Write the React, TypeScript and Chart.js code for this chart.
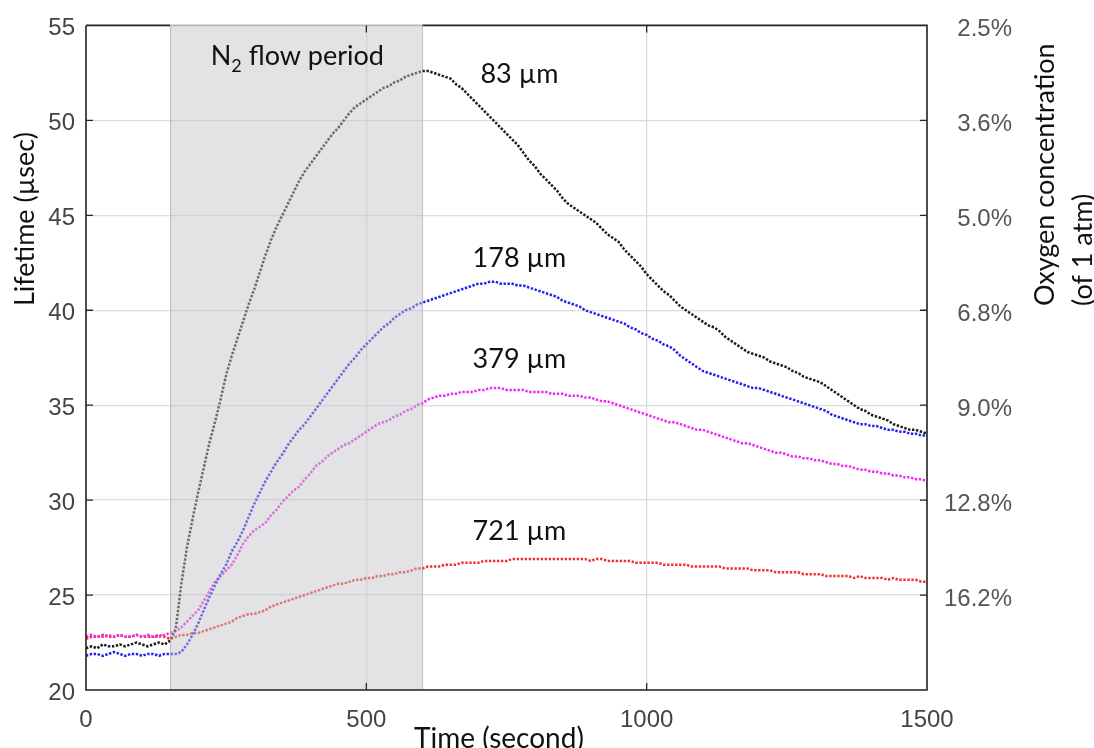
import React, { useEffect, useRef } from 'react';
import { Chart, registerables } from 'chart.js';

Chart.register(...registerables);

// time stamps (s)
const times = [
  0, 10, 20, 30, 40, 50, 60, 70, 80, 90,
  100, 110, 120, 130, 140, 150, 160, 170, 180, 190,
  200, 210, 220, 230, 240, 250, 260, 270, 280, 290,
  300, 310, 320, 330, 340, 350, 360, 370, 380, 390,
  400, 410, 420, 430, 440, 450, 460, 470, 480, 490,
  500, 510, 520, 530, 540, 550, 560, 570, 580, 590,
  600, 610, 620, 630, 640, 650, 660, 670, 680, 690,
  700, 710, 720, 730, 740, 750, 760, 770, 780, 790,
  800, 810, 820, 830, 840, 850, 860, 870, 880, 890,
  900, 910, 920, 930, 940, 950, 960, 970, 980, 990,
  1000, 1010, 1020, 1030, 1040, 1050, 1060, 1070, 1080, 1090,
  1100, 1110, 1120, 1130, 1140, 1150, 1160, 1170, 1180, 1190,
  1200, 1210, 1220, 1230, 1240, 1250, 1260, 1270, 1280, 1290,
  1300, 1310, 1320, 1330, 1340, 1350, 1360, 1370, 1380, 1390,
  1400, 1410, 1420, 1430, 1440, 1450, 1460, 1470, 1480, 1490,
  1500,
];

// lifetime (µsec) for 83 µm
const lifetime83 = [
  22.2, 22.3, 22.2, 22.4, 22.3, 22.3, 22.4, 22.3, 22.4, 22.5,
  22.4, 22.3, 22.4, 22.5, 22.4, 22.6, 23.2, 25.6, 27.5, 29.0,
  30.4, 31.7, 33.0, 34.1, 35.3, 36.6, 37.6, 38.5, 39.4, 40.3,
  41.1, 42.0, 42.9, 43.7, 44.4, 45.0, 45.6, 46.2, 46.8, 47.3,
  47.7, 48.1, 48.5, 48.9, 49.3, 49.6, 50.0, 50.4, 50.7, 50.9,
  51.1, 51.3, 51.5, 51.7, 51.8, 52.0, 52.1, 52.3, 52.4, 52.5,
  52.6, 52.6, 52.5, 52.4, 52.3, 52.2, 51.9, 51.7, 51.4, 51.1,
  50.8, 50.5, 50.2, 49.9, 49.6, 49.3, 49.0, 48.7, 48.3, 47.9,
  47.6, 47.2, 46.9, 46.6, 46.3, 45.9, 45.6, 45.4, 45.2, 45.0,
  44.8, 44.6, 44.3, 44.0, 43.8, 43.6, 43.2, 42.9, 42.6, 42.3,
  41.9, 41.6, 41.3, 41.0, 40.8, 40.5, 40.2, 40.0, 39.8, 39.6,
  39.4, 39.2, 39.1, 38.9, 38.6, 38.4, 38.2, 38.0, 37.8, 37.7,
  37.6, 37.5, 37.3, 37.2, 37.1, 37.0, 36.8, 36.7, 36.5, 36.4,
  36.3, 36.2, 36.0, 35.8, 35.6, 35.4, 35.2, 35.0, 34.8, 34.7,
  34.5, 34.4, 34.3, 34.2, 34.0, 33.9, 33.8, 33.7, 33.7, 33.6,
  33.5,
];

// lifetime (µsec) for 178 µm
const lifetime178 = [
  21.8, 21.9, 21.9, 21.8, 21.9, 22.0, 21.9, 21.8, 21.9, 21.9,
  21.8, 21.9, 21.9, 21.8, 21.9, 21.9, 21.9, 22.0, 22.4, 22.9,
  23.5, 24.2, 24.9, 25.5, 26.1, 26.6, 27.3, 27.8, 28.4, 29.1,
  29.8, 30.4, 31.0, 31.5, 32.0, 32.4, 32.9, 33.3, 33.7, 34.0,
  34.4, 34.8, 35.2, 35.6, 36.0, 36.4, 36.8, 37.2, 37.5, 37.9,
  38.2, 38.5, 38.8, 39.1, 39.3, 39.6, 39.8, 40.0, 40.1, 40.3,
  40.4, 40.5, 40.6, 40.7, 40.8, 40.9, 41.0, 41.1, 41.2, 41.3,
  41.4, 41.4, 41.5, 41.5, 41.4, 41.4, 41.4, 41.3, 41.3, 41.2,
  41.1, 41.0, 40.9, 40.8, 40.7, 40.5, 40.4, 40.3, 40.2, 40.0,
  39.9, 39.8, 39.7, 39.6, 39.5, 39.4, 39.3, 39.1, 39.0, 38.8,
  38.7, 38.5, 38.4, 38.2, 38.1, 37.9, 37.6, 37.4, 37.2, 37.0,
  36.8, 36.7, 36.6, 36.5, 36.4, 36.3, 36.2, 36.1, 36.0, 35.9,
  35.9, 35.8, 35.7, 35.6, 35.5, 35.4, 35.3, 35.2, 35.1, 35.0,
  34.9, 34.8, 34.7, 34.5, 34.4, 34.3, 34.2, 34.1, 34.0, 34.0,
  33.9, 33.9, 33.8, 33.7, 33.7, 33.6, 33.6, 33.5, 33.5, 33.4,
  33.4,
];

// lifetime (µsec) for 379 µm
const lifetime379 = [
  22.8, 22.9, 22.8, 22.8, 22.9, 22.8, 22.9, 22.8, 22.8, 22.9,
  22.8, 22.9, 22.8, 22.8, 22.9, 23.0, 23.1, 23.3, 23.6, 23.9,
  24.2, 24.7, 25.2, 25.7, 26.0, 26.3, 26.6, 27.1, 27.7, 28.1,
  28.4, 28.6, 28.8, 29.2, 29.5, 29.9, 30.2, 30.5, 30.7, 31.1,
  31.4, 31.8, 32.0, 32.3, 32.5, 32.7, 32.9, 33.0, 33.2, 33.4,
  33.6, 33.8, 34.0, 34.1, 34.2, 34.4, 34.5, 34.7, 34.8, 35.0,
  35.1, 35.3, 35.4, 35.5, 35.5, 35.6, 35.6, 35.7, 35.7, 35.7,
  35.8, 35.8, 35.9, 35.9, 35.9, 35.8, 35.8, 35.8, 35.8, 35.7,
  35.7, 35.7, 35.7, 35.6, 35.6, 35.6, 35.5, 35.5, 35.5, 35.4,
  35.4, 35.3, 35.2, 35.2, 35.1, 35.0, 34.9, 34.8, 34.7, 34.6,
  34.5, 34.4, 34.3, 34.2, 34.1, 34.1, 34.0, 33.9, 33.8, 33.7,
  33.7, 33.6, 33.5, 33.4, 33.3, 33.2, 33.1, 33.0, 33.0, 32.9,
  32.8, 32.7, 32.6, 32.5, 32.5, 32.4, 32.3, 32.3, 32.2, 32.2,
  32.1, 32.1, 32.0, 31.9, 31.9, 31.8, 31.8, 31.7, 31.6, 31.6,
  31.5, 31.5, 31.4, 31.4, 31.3, 31.3, 31.2, 31.2, 31.1, 31.1,
  31.0,
];

// lifetime (µsec) for 721 µm
const lifetime721 = [
  22.7, 22.8, 22.8, 22.9, 22.8, 22.8, 22.9, 22.8, 22.8, 22.9,
  22.8, 22.8, 22.8, 22.9, 22.8, 22.7, 22.8, 22.9, 22.9, 23.0,
  23.0, 23.1, 23.2, 23.3, 23.4, 23.5, 23.6, 23.8, 23.9, 24.0,
  24.0, 24.1, 24.2, 24.4, 24.5, 24.6, 24.7, 24.8, 24.9, 25.0,
  25.1, 25.2, 25.3, 25.4, 25.5, 25.6, 25.6, 25.7, 25.8, 25.8,
  25.9, 25.9, 26.0, 26.0, 26.1, 26.1, 26.2, 26.2, 26.3, 26.4,
  26.4, 26.5, 26.5, 26.5, 26.6, 26.6, 26.6, 26.7, 26.7, 26.7,
  26.7, 26.8, 26.8, 26.8, 26.8, 26.8, 26.9, 26.9, 26.9, 26.9,
  26.9, 26.9, 26.9, 26.9, 26.9, 26.9, 26.9, 26.9, 26.9, 26.9,
  26.8, 26.9, 26.9, 26.8, 26.8, 26.8, 26.8, 26.8, 26.7, 26.7,
  26.7, 26.7, 26.7, 26.6, 26.6, 26.6, 26.6, 26.6, 26.5, 26.5,
  26.5, 26.5, 26.5, 26.5, 26.4, 26.4, 26.4, 26.4, 26.4, 26.3,
  26.3, 26.3, 26.3, 26.2, 26.2, 26.2, 26.2, 26.2, 26.1, 26.1,
  26.1, 26.1, 26.0, 26.0, 26.0, 26.0, 26.0, 25.9, 26.0, 25.9,
  25.9, 25.9, 25.9, 25.8, 25.9, 25.8, 25.8, 25.8, 25.8, 25.7,
  25.7,
];

const seriesValues = [lifetime83, lifetime178, lifetime379, lifetime721];
const seriesNames = ['83 µm', '178 µm', '379 µm', '721 µm'];
const seriesColors = ['#1a1a1a', '#2020f0', '#f028f0', '#f03030'];
// label anchor points (data coordinates)
const labelTimes = [773, 773, 773, 773];
const labelValues = [52.47, 42.8, 37.5, 28.4];

const flowStart = 150;
const flowEnd = 600;
const flowLabelTime = 377;
const flowLabelValue = 53.45;

const xMin = 0;
const xMax = 1500;
const xStep = 500;
const yMin = 20;
const yMax = 55;
const yStep = 5;
const oxygenTickValues = [55, 50, 45, 40, 35, 30, 25];
const oxygenTickLabels = ['2.5%', '3.6%', '5.0%', '6.8%', '9.0%', '12.8%', '16.2%'];

const tickFont = { family: '"Liberation Sans", Arial, sans-serif', size: 24 };
const textFont = 'Lato, "Open Sans", sans-serif';

const overlayPlugin = {
  id: 'overlay',
  afterDatasetsDraw(chart: any) {
    const { ctx, chartArea: ca, scales } = chart;
    const x = scales.x;
    const y = scales.y;
    const x0 = x.getPixelForValue(flowStart);
    const x1 = x.getPixelForValue(flowEnd);
    ctx.save();
    ctx.fillStyle = 'rgba(196,194,200,0.48)';
    ctx.fillRect(x0, ca.top, x1 - x0, ca.bottom - ca.top);
    ctx.strokeStyle = 'rgba(150,150,150,0.55)';
    ctx.lineWidth = 1;
    ctx.beginPath();
    ctx.moveTo(Math.round(x0) + 0.5, ca.top);
    ctx.lineTo(Math.round(x0) + 0.5, ca.bottom);
    ctx.moveTo(Math.round(x1) + 0.5, ca.top);
    ctx.lineTo(Math.round(x1) + 0.5, ca.bottom);
    ctx.stroke();

    // box
    ctx.lineWidth = 1.6;
    ctx.strokeStyle = '#262626';
    ctx.beginPath();
    ctx.moveTo(ca.left, ca.top);
    ctx.lineTo(ca.left, ca.bottom);
    ctx.lineTo(ca.right, ca.bottom);
    ctx.lineTo(ca.right, ca.top);
    ctx.lineTo(x1, ca.top);
    ctx.moveTo(x0, ca.top);
    ctx.lineTo(ca.left, ca.top);
    ctx.stroke();
    ctx.strokeStyle = '#b8b8b8';
    ctx.beginPath();
    ctx.moveTo(x0, ca.top);
    ctx.lineTo(x1, ca.top);
    ctx.stroke();

    // inward tick marks
    const tl = 7;
    ctx.strokeStyle = '#262626';
    ctx.lineWidth = 1.3;
    ctx.beginPath();
    y.ticks.forEach((t: any) => {
      if (t.value <= yMin || t.value >= yMax) return;
      const py = y.getPixelForValue(t.value);
      ctx.moveTo(ca.left, py);
      ctx.lineTo(ca.left + tl, py);
      ctx.moveTo(ca.right, py);
      ctx.lineTo(ca.right - tl, py);
    });
    x.ticks.forEach((t: any) => {
      if (t.value <= xMin || t.value >= xMax) return;
      const px = x.getPixelForValue(t.value);
      ctx.moveTo(px, ca.bottom);
      ctx.lineTo(px, ca.bottom - tl);
      ctx.moveTo(px, ca.top);
      ctx.lineTo(px, ca.top + tl);
    });
    ctx.stroke();
    ctx.restore();
  },
  afterDraw(chart: any) {
    const { ctx, scales } = chart;
    const x = scales.x;
    const y = scales.y;
    ctx.save();
    ctx.fillStyle = '#111';
    ctx.font = `27px ${textFont}`;
    ctx.textBaseline = 'alphabetic';
    ctx.textAlign = 'center';
    seriesNames.forEach((name, i) => {
      const px = x.getPixelForValue(labelTimes[i]);
      const py = y.getPixelForValue(labelValues[i]);
      ctx.fillText(name, px, py + 10);
    });

    // N2 flow period
    const fx = x.getPixelForValue(flowLabelTime);
    const fy = y.getPixelForValue(flowLabelValue) + 10;
    ctx.textAlign = 'left';
    ctx.font = `27px ${textFont}`;
    const wN = ctx.measureText('N').width;
    const wRest = ctx.measureText(' flow period').width;
    ctx.font = `18px ${textFont}`;
    const w2 = ctx.measureText('2').width;
    const total = wN + w2 + wRest;
    let sx = fx - total / 2;
    ctx.font = `27px ${textFont}`;
    ctx.fillText('N', sx, fy);
    sx += wN;
    ctx.font = `18px ${textFont}`;
    ctx.fillText('2', sx, fy + 7);
    sx += w2;
    ctx.font = `27px ${textFont}`;
    ctx.fillText(' flow period', sx, fy);

    // axis titles
    ctx.font = `28px ${textFont}`;
    ctx.textAlign = 'center';
    ctx.fillText('Time (second)', 499, 748);

    const vtitle = (text: string, cx: number, startY: number) => {
      ctx.save();
      ctx.translate(cx, startY);
      ctx.rotate(-Math.PI / 2);
      ctx.textAlign = 'left';
      ctx.textBaseline = 'middle';
      ctx.fillText(text, 0, 0);
      ctx.restore();
    };
    ctx.font = `27px ${textFont}`;
    vtitle('Lifetime (µsec)', 25, 306);
    vtitle('Oxygen concentration', 1045, 306);
    vtitle('(of 1 atm)', 1083, 306);
    ctx.restore();
  },
};

export default function App() {
  const ref = useRef<HTMLCanvasElement>(null);
  useEffect(() => {
    if (!ref.current) return;
    const datasets = seriesValues.map((vals, i) => ({
      label: seriesNames[i],
      data: times.map((t, j) => ({ x: t, y: vals[j] })),
      showLine: true,
      borderColor: seriesColors[i],
      backgroundColor: seriesColors[i],
      borderWidth: 2.5,
      borderDash: [2.4, 1.6],
      pointRadius: 0,
      tension: 0,
    }));
    const chart = new Chart(ref.current, {
      type: 'scatter',
      data: { datasets },
      plugins: [overlayPlugin],
      options: {
        animation: false,
        responsive: false,
        devicePixelRatio: 1,
        layout: { padding: { top: 25, right: 82, left: 0, bottom: 0 } },
        plugins: { legend: { display: false }, tooltip: { enabled: false } },
        scales: {
          x: {
            type: 'linear',
            min: xMin,
            max: xMax,
            ticks: {
              stepSize: xStep,
              padding: 16,
              color: '#444',
              font: tickFont,
              maxRotation: 0,
              callback: (v: any) => String(v),
            },
            grid: { color: '#dcdcdc', lineWidth: 1.3, drawTicks: false },
            border: { display: false },
            afterFit: (s: any) => { s.height = 58; },
          },
          y: {
            type: 'linear',
            min: yMin,
            max: yMax,
            ticks: { stepSize: yStep, padding: 11, color: '#444', font: tickFont, labelOffset: 3, callback: (v: any) => String(v) },
            grid: { color: '#dcdcdc', lineWidth: 1.3, drawTicks: false },
            border: { display: false },
            afterFit: (s: any) => { s.width = 86; },
          },
          y2: {
            type: 'linear',
            position: 'right',
            min: yMin,
            max: yMax,
            ticks: {
              stepSize: yStep,
              padding: 0,
              crossAlign: 'far',
              color: '#555',
              font: tickFont,
              labelOffset: 4,
              callback: (v: any) => {
                const i = oxygenTickValues.indexOf(Number(v));
                return i >= 0 ? oxygenTickLabels[i] : '';
              },
            },
            grid: { display: false, drawTicks: false },
            border: { display: false },
            afterFit: (s: any) => { s.width = 85; },
          },
        },
      },
    } as any);
    return () => chart.destroy();
  }, []);
  return (
    <div style={{ position: 'absolute', left: 0, top: 0, width: 1094, height: 748, background: '#fff' }}>
      <canvas ref={ref} width={1094} height={748} style={{ display: 'block', width: 1094, height: 748 }} />
    </div>
  );
}
